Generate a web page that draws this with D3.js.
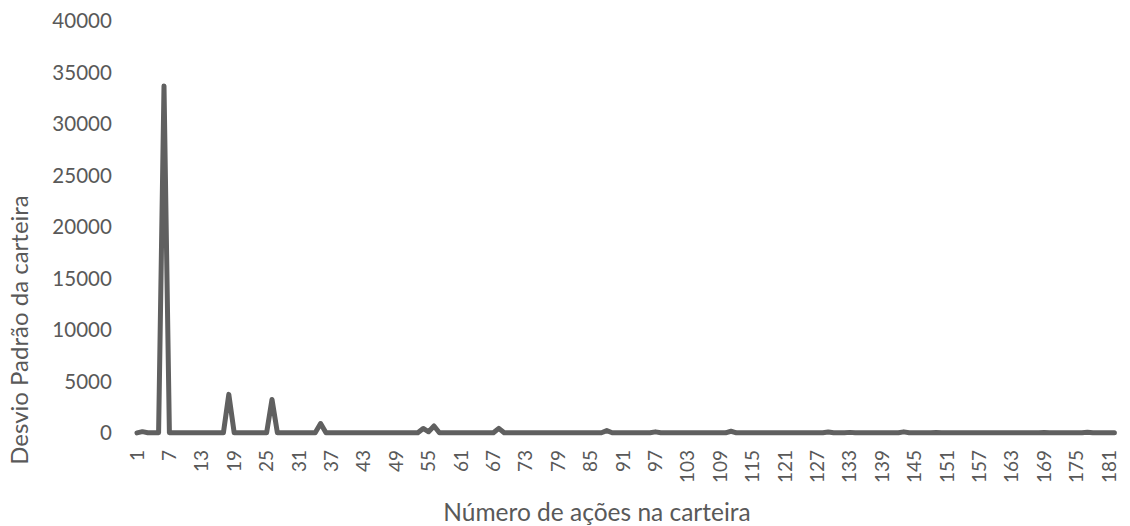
<!DOCTYPE html>
<html>
<head>
<meta charset="utf-8">
<script src="https://cdn.jsdelivr.net/npm/d3@7"></script>
<style>
  body { margin: 0; background: #fff; }
  text { font-family: Lato, "Open Sans", sans-serif; fill: #595959; }
</style>
</head>
<body>
<div id="chart"></div>
<script>

// number of stocks in the portfolio (categories 1..182)
var categories = [
  1,2,3,4,5,6,7,8,9,10,11,12,13,14,15,16,17,18,19,20,
  21,22,23,24,25,26,27,28,29,30,31,32,33,34,35,36,37,38,39,40,
  41,42,43,44,45,46,47,48,49,50,51,52,53,54,55,56,57,58,59,60,
  61,62,63,64,65,66,67,68,69,70,71,72,73,74,75,76,77,78,79,80,
  81,82,83,84,85,86,87,88,89,90,91,92,93,94,95,96,97,98,99,100,
  101,102,103,104,105,106,107,108,109,110,111,112,113,114,115,116,117,118,119,120,
  121,122,123,124,125,126,127,128,129,130,131,132,133,134,135,136,137,138,139,140,
  141,142,143,144,145,146,147,148,149,150,151,152,153,154,155,156,157,158,159,160,
  161,162,163,164,165,166,167,168,169,170,171,172,173,174,175,176,177,178,179,180,
  181,182
];

// portfolio standard deviation
var desvio = [
  10,130,30,20,20,33700,20,20,20,20,20,20,20,20,20,20,20,3750,20,20,
  20,20,20,20,20,3250,20,20,20,20,20,20,20,20,920,20,20,20,20,20,
  20,20,20,20,20,20,20,20,20,20,20,20,20,440,120,680,20,20,20,20,
  20,20,20,20,20,20,20,450,20,20,20,20,20,20,20,20,20,20,20,20,
  20,20,20,20,20,20,20,230,20,20,20,20,20,20,20,20,110,20,20,20,
  20,20,20,20,20,20,20,20,20,20,170,20,20,20,20,20,20,20,20,20,
  20,20,20,20,20,20,20,20,100,20,20,20,60,20,20,20,20,20,20,20,
  20,20,110,20,20,20,20,20,40,20,20,20,20,20,20,20,20,20,20,20,
  20,20,20,20,20,20,20,20,50,20,20,20,20,20,20,20,80,20,20,20,
  20,20
];

var xTicks = [1,7,13,19,25,31,37,43,49,55,61,67,73,79,85,91,97,103,109,115,
  121,127,133,139,145,151,157,163,169,175,181];
var yTicks = [0,5000,10000,15000,20000,25000,30000,35000,40000];

var W = 1130, H = 526;
var plot = { left: 134.3, right: 1117.1, top: 21, bottom: 433 };

var svg = d3.select('#chart')
  .append('svg')
  .attr('width', W)
  .attr('height', H);

var x = d3.scaleBand()
  .domain(categories)
  .range([plot.left, plot.right])
  .padding(0);

var y = d3.scaleLinear()
  .domain([0, 40000])
  .range([plot.bottom, plot.top]);

var cx = function(c){ return x(c) + x.bandwidth() / 2; };

// y axis (labels only)
var yAxis = svg.append('g')
  .attr('transform', 'translate(' + plot.left + ',0)')
  .call(d3.axisLeft(y).tickValues(yTicks).tickSize(0).tickPadding(22.5).tickFormat(d3.format('d')));
yAxis.select('.domain').remove();
yAxis.selectAll('text').style('font-size', '20.5px').attr('fill', '#595959');

// x axis (labels only, rotated)
var xAxis = svg.append('g')
  .attr('transform', 'translate(0,' + plot.bottom + ')')
  .call(d3.axisBottom(x).tickValues(xTicks).tickSize(0));
xAxis.select('.domain').remove();
xAxis.selectAll('text')
  .style('font-size', '19px')
  .attr('fill', '#595959')
  .attr('text-anchor', 'end')
  .attr('transform', 'rotate(-90)')
  .attr('x', -17)
  .attr('y', 0)
  .attr('dy', '0.35em');

// data line
var line = d3.line()
  .x(function(d, i){ return cx(categories[i]); })
  .y(function(d){ return y(d); });

svg.append('path')
  .datum(desvio)
  .attr('d', line)
  .attr('fill', 'none')
  .attr('stroke', '#606060')
  .attr('stroke-width', 5)
  .attr('stroke-linejoin', 'round')
  .attr('stroke-linecap', 'round');

// axis titles
svg.append('text')
  .attr('x', 597)
  .attr('y', 521)
  .attr('text-anchor', 'middle')
  .style('font-size', '24.5px')
  .text('Número de ações na carteira');

svg.append('text')
  .attr('transform', 'translate(28,330) rotate(-90)')
  .attr('text-anchor', 'middle')
  .style('font-size', '24px')
  .text('Desvio Padrão da carteira');

</script>
</body>
</html>
